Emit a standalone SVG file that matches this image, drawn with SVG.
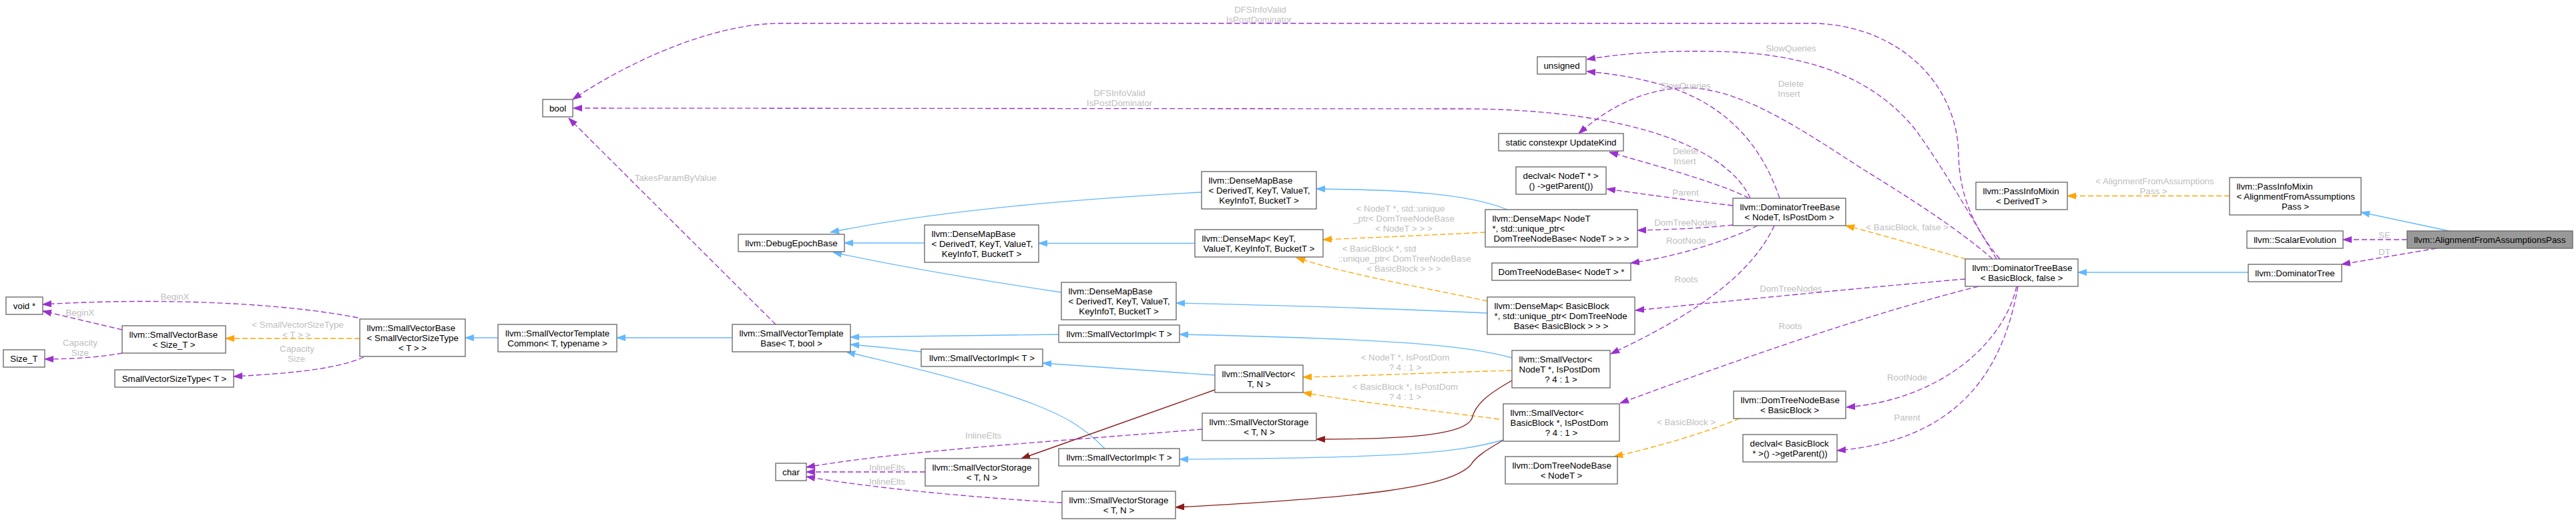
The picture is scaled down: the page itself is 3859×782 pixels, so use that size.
<svg xmlns="http://www.w3.org/2000/svg" width="3859" height="782" viewBox="0 0 3859 782">
<style>
text{font-family:"Liberation Sans",Arial,Helvetica,sans-serif;font-size:13.33px;fill:#000}
.n rect{fill:#fff;stroke:#666;stroke-width:1.33}
.main rect{fill:#999;stroke:#666;stroke-width:1.33}
.c{text-anchor:middle}
.s{text-anchor:start}
.e path{fill:none;stroke-width:1.33}
.b{stroke:#63b8ff}
.o{stroke:#ffa500;stroke-dasharray:8,4}
.p{stroke:#9a32cd;stroke-dasharray:8,4}
.r{stroke:#8b1a1a}
.lbl text{fill:#bebebe;text-anchor:middle}
</style>
<defs>
<marker id="mb" viewBox="0 0 13 10" refX="13" refY="5" markerWidth="13" markerHeight="10" markerUnits="userSpaceOnUse" orient="auto"><path d="M0,0.5L13,5L0,9.5z" fill="#63b8ff" stroke="#63b8ff" stroke-width="1"/></marker>
<marker id="mo" viewBox="0 0 13 10" refX="13" refY="5" markerWidth="13" markerHeight="10" markerUnits="userSpaceOnUse" orient="auto"><path d="M0,0.5L13,5L0,9.5z" fill="#ffa500" stroke="#ffa500" stroke-width="1"/></marker>
<marker id="mp" viewBox="0 0 13 10" refX="13" refY="5" markerWidth="13" markerHeight="10" markerUnits="userSpaceOnUse" orient="auto"><path d="M0,0.5L13,5L0,9.5z" fill="#9a32cd" stroke="#9a32cd" stroke-width="1"/></marker>
<marker id="mr" viewBox="0 0 13 10" refX="13" refY="5" markerWidth="13" markerHeight="10" markerUnits="userSpaceOnUse" orient="auto"><path d="M0,0.5L13,5L0,9.5z" fill="#8b1a1a" stroke="#8b1a1a" stroke-width="1"/></marker>
</defs>
<rect width="3859" height="782" fill="#fff"/>

<g id="edges" class="e">
<path class="b" marker-end="url(#mb)" d="M746,506 L697,506"/>
<path class="b" marker-end="url(#mb)" d="M1097,506 L924,506"/>
<path class="b" marker-end="url(#mb)" d="M1586,501 C1480,502 1380,504 1274,505"/>
<path class="b" marker-end="url(#mb)" d="M1380,527 C1340,522 1310,519 1274,516"/>
<path class="b" marker-end="url(#mb)" d="M1655,672 C1620,636 1590,622 1550,606 C1450,568 1340,545 1268,527"/>
<path class="b" marker-end="url(#mb)" d="M1800,288 C1650,296 1420,312 1244,348"/>
<path class="b" marker-end="url(#mb)" d="M1385,364 L1265,364"/>
<path class="b" marker-end="url(#mb)" d="M1590,438 C1470,420 1340,398 1248,378"/>
<path class="b" marker-end="url(#mb)" d="M1790,364.5 L1556,364.5"/>
<path class="b" marker-end="url(#mb)" d="M2258,314 C2200,290 2100,284 1972,283"/>
<path class="b" marker-end="url(#mb)" d="M2228,469 C2100,463 1900,457 1762,454"/>
<path class="b" marker-end="url(#mb)" d="M2265,536 C2200,518 2100,508 1767,501"/>
<path class="b" marker-end="url(#mb)" d="M1820,562 L1562,544"/>
<path class="b" marker-end="url(#mb)" d="M2252,659 C2180,680 2080,686 1767,688"/>
<path class="b" marker-end="url(#mb)" d="M3368,408 L3113,408"/>
<path class="b" marker-end="url(#mb)" d="M3669,346 L3537,318"/>

<path class="o" marker-end="url(#mo)" d="M539,507 L338,507"/>
<path class="o" marker-end="url(#mo)" d="M2225,348 C2150,352 2050,356 1982,359"/>
<path class="o" marker-end="url(#mo)" d="M2228,451 C2140,432 2020,412 1942,386"/>
<path class="o" marker-end="url(#mo)" d="M2265,555 C2150,558 2050,563 1952,565"/>
<path class="o" marker-end="url(#mo)" d="M2246,628 C2120,612 2020,600 1952,588"/>
<path class="o" marker-end="url(#mo)" d="M2606,627 C2550,650 2480,670 2418,684"/>
<path class="o" marker-end="url(#mo)" d="M2945,388 C2880,370 2820,352 2765,338"/>
<path class="o" marker-end="url(#mo)" d="M3340,293.5 L3097,293.5"/>

<path class="r" marker-end="url(#mr)" d="M1820,584 L1530,687"/>
<path class="r" marker-end="url(#mr)" d="M2265,570 C2230,590 2210,605 2205,627 C2195,650 2120,658 1972,658"/>
<path class="r" marker-end="url(#mr)" d="M2251,660 C2225,675 2210,685 2203,697 C2170,730 2050,745 1761,760"/>

<path class="p" marker-end="url(#mp)" d="M536,476 C430,455 250,445 64,456"/>
<path class="p" marker-end="url(#mp)" d="M183,494 L64,466"/>
<path class="p" marker-end="url(#mp)" d="M183,529 C150,535 110,538 67,538"/>
<path class="p" marker-end="url(#mp)" d="M545,535 C500,555 420,560 350,564"/>
<path class="p" marker-end="url(#mp)" d="M1162,486 L852,177"/>
<path class="p" marker-end="url(#mp)" d="M2622,297 C2590,225 2450,165 2200,163 L859,162"/>
<path class="p" marker-end="url(#mp)" d="M2996,388 C2955,340 2935,290 2934,230 C2932,130 2850,40 2720,35 L1170,35 C1060,35 930,100 858,149"/>
<path class="p" marker-end="url(#mp)" d="M2991,388 C2950,320 2910,250 2870,195 C2810,120 2720,85 2600,78 C2500,74 2430,80 2377,89"/>
<path class="p" marker-end="url(#mp)" d="M2666,297 C2640,220 2590,160 2500,130 C2450,115 2410,110 2377,107"/>
<path class="p" marker-end="url(#mp)" d="M2985,388 C2930,340 2850,290 2790,253 C2700,195 2620,140 2540,132 C2470,128 2410,160 2365,200"/>
<path class="p" marker-end="url(#mp)" d="M2620,297 C2580,275 2470,245 2411,228"/>
<path class="p" marker-end="url(#mp)" d="M2596,308 C2530,300 2470,292 2407,283"/>
<path class="p" marker-end="url(#mp)" d="M2596,337 C2550,342 2500,344 2453,345"/>
<path class="p" marker-end="url(#mp)" d="M2633,338 C2590,360 2510,385 2443,394"/>
<path class="p" marker-end="url(#mp)" d="M2658,338 C2620,420 2520,480 2413,530"/>
<path class="p" marker-end="url(#mp)" d="M2944,418 C2800,430 2600,450 2450,465"/>
<path class="p" marker-end="url(#mp)" d="M2964,429 C2800,470 2600,540 2427,604"/>
<path class="p" marker-end="url(#mp)" d="M3021,429 C3000,520 2900,600 2766,610"/>
<path class="p" marker-end="url(#mp)" d="M3023,429 C3000,560 2930,660 2752,675"/>
<path class="p" marker-end="url(#mp)" d="M1801,643 C1600,660 1350,675 1208,700"/>
<path class="p" marker-end="url(#mp)" d="M1386,707 L1208,707"/>
<path class="p" marker-end="url(#mp)" d="M1591,753 C1450,745 1300,730 1208,714"/>
<path class="p" marker-end="url(#mp)" d="M3606,359 L3510,359"/>
<path class="p" marker-end="url(#mp)" d="M3650,372 L3508,396"/>
</g>

<g id="edge-labels" class="lbl">
<text x="262" y="449">BeginX</text>
<text x="120" y="473">BeginX</text>
<text x="120" y="518">Capacity</text><text x="120" y="533">Size</text>
<text x="446" y="490.5">&lt; SmallVectorSizeType</text><text x="444" y="505.5">&lt; T &gt; &gt;</text>
<text x="445" y="527">Capacity</text><text x="444" y="542">Size</text>
<text x="1012" y="271">TakesParamByValue</text>
<text x="1888" y="18.5">DFSInfoValid</text><text x="1886" y="33.5">IsPostDominator</text>
<text x="1677" y="144">DFSInfoValid</text><text x="1677" y="159">IsPostDominator</text>
<text x="1473" y="657">InlineElts</text>
<text x="1329" y="705">InlineElts</text>
<text x="1329" y="725.5">InlineElts</text>
<text x="2098" y="317">&lt; NodeT *, std::unique</text><text x="2103" y="332">_ptr&lt; DomTreeNodeBase</text><text x="2103" y="347">&lt; NodeT &gt; &gt; &gt;</text>
<text x="2066" y="377">&lt; BasicBlock *, std</text><text x="2104" y="392">::unique_ptr&lt; DomTreeNodeBase</text><text x="2103" y="407">&lt; BasicBlock &gt; &gt; &gt;</text>
<text x="2105" y="540">&lt; NodeT *, IsPostDom</text><text x="2105" y="555">? 4 : 1 &gt;</text>
<text x="2105" y="583.5">&lt; BasicBlock *, IsPostDom</text><text x="2105" y="598.5">? 4 : 1 &gt;</text>
<text x="2683" y="77">SlowQueries</text>
<text x="2525" y="133">SlowQueries</text>
<text x="2683" y="130">Delete</text><text x="2680" y="145">Insert</text>
<text x="2525" y="231">Delete</text><text x="2524" y="246">Insert</text>
<text x="2525" y="293">Parent</text>
<text x="2525" y="338">DomTreeNodes</text>
<text x="2526" y="365">RootNode</text>
<text x="2526" y="423">Roots</text>
<text x="2683" y="437">DomTreeNodes</text>
<text x="2682" y="493">Roots</text>
<text x="2526" y="637">&lt; BasicBlock &gt;</text>
<text x="2857" y="345">&lt; BasicBlock, false &gt;</text>
<text x="2857" y="570">RootNode</text>
<text x="2857" y="629.5">Parent</text>
<text x="3228" y="276">&lt; AlignmentFromAssumptions</text><text x="3226" y="291">Pass &gt;</text>
<text x="3572" y="357">SE</text>
<text x="3572" y="382">DT</text>
</g>

<g id="n_void" class="n"><rect x="9" y="445" width="55" height="26"/><text class="c" x="36.5" y="462.5">void *</text></g>
<g id="n_sizet" class="n"><rect x="5" y="524" width="62" height="26"/><text class="c" x="36" y="541.5">Size_T</text></g>
<g id="n_svb_size" class="n"><rect x="183" y="488" width="155" height="41"/><text class="s" x="193.5" y="505.5">llvm::SmallVectorBase</text><text class="c" x="260.5" y="520.5">&lt; Size_T &gt;</text></g>
<g id="n_svst" class="n"><rect x="172" y="554" width="178" height="26"/><text class="c" x="261" y="571.5">SmallVectorSizeType&lt; T &gt;</text></g>
<g id="n_svb_svst" class="n"><rect x="539" y="478" width="158" height="56"/><text class="s" x="549.5" y="495.5">llvm::SmallVectorBase</text><text class="s" x="549.5" y="510.5">&lt; SmallVectorSizeType</text><text class="c" x="618" y="525.5">&lt; T &gt; &gt;</text></g>
<g id="n_svtc" class="n"><rect x="746" y="486" width="178" height="41"/><text class="s" x="757" y="503.5">llvm::SmallVectorTemplate</text><text class="c" x="835" y="518.5">Common&lt; T, typename &gt;</text></g>
<g id="n_svtb" class="n"><rect x="1097" y="486" width="177" height="41"/><text class="s" x="1107.5" y="503.5">llvm::SmallVectorTemplate</text><text class="c" x="1185.5" y="518.5">Base&lt; T, bool &gt;</text></g>
<g id="n_bool" class="n"><rect x="813" y="149" width="45" height="26"/><text class="c" x="835.5" y="166.5">bool</text></g>
<g id="n_deb" class="n"><rect x="1106" y="351" width="159" height="26"/><text class="c" x="1185.5" y="368.5">llvm::DebugEpochBase</text></g>
<g id="n_char" class="n"><rect x="1162" y="694" width="46" height="26"/><text class="c" x="1185" y="711.5">char</text></g>
<g id="n_dmb1" class="n"><rect x="1800" y="257" width="172" height="56"/><text class="s" x="1810.5" y="274.5">llvm::DenseMapBase</text><text class="s" x="1810.5" y="289.5">&lt; DerivedT, KeyT, ValueT,</text><text class="c" x="1886" y="304.5">KeyInfoT, BucketT &gt;</text></g>
<g id="n_dmb2" class="n"><rect x="1385" y="337" width="171" height="56"/><text class="s" x="1395.5" y="354.5">llvm::DenseMapBase</text><text class="s" x="1395.5" y="369.5">&lt; DerivedT, KeyT, ValueT,</text><text class="c" x="1470.5" y="384.5">KeyInfoT, BucketT &gt;</text></g>
<g id="n_densemap" class="n"><rect x="1790" y="344" width="192" height="41"/><text class="s" x="1800.5" y="361.5">llvm::DenseMap&lt; KeyT,</text><text class="c" x="1886" y="376.5">ValueT, KeyInfoT, BucketT &gt;</text></g>
<g id="n_dmb3" class="n"><rect x="1590" y="423" width="172" height="56"/><text class="s" x="1600.5" y="440.5">llvm::DenseMapBase</text><text class="s" x="1600.5" y="455.5">&lt; DerivedT, KeyT, ValueT,</text><text class="c" x="1676" y="470.5">KeyInfoT, BucketT &gt;</text></g>
<g id="n_svimpl1" class="n"><rect x="1586" y="487" width="181" height="26"/><text class="c" x="1676.5" y="504.5">llvm::SmallVectorImpl&lt; T &gt;</text></g>
<g id="n_svimpl2" class="n"><rect x="1380" y="523" width="182" height="26"/><text class="c" x="1471" y="540.5">llvm::SmallVectorImpl&lt; T &gt;</text></g>
<g id="n_smallvector" class="n"><rect x="1820" y="547" width="132" height="41"/><text class="s" x="1830.5" y="564.5">llvm::SmallVector&lt;</text><text class="c" x="1886" y="579.5">T, N &gt;</text></g>
<g id="n_svstorage1" class="n"><rect x="1801" y="619" width="171" height="41"/><text class="s" x="1811.5" y="636.5">llvm::SmallVectorStorage</text><text class="c" x="1886.5" y="651.5">&lt; T, N &gt;</text></g>
<g id="n_svimpl3" class="n"><rect x="1586" y="672" width="181" height="26"/><text class="c" x="1676.5" y="689.5">llvm::SmallVectorImpl&lt; T &gt;</text></g>
<g id="n_svstorage2" class="n"><rect x="1386" y="687" width="170" height="41"/><text class="s" x="1396.5" y="704.5">llvm::SmallVectorStorage</text><text class="c" x="1471" y="719.5">&lt; T, N &gt;</text></g>
<g id="n_svstorage3" class="n"><rect x="1591" y="736" width="170" height="41"/><text class="s" x="1601.5" y="753.5">llvm::SmallVectorStorage</text><text class="c" x="1676" y="768.5">&lt; T, N &gt;</text></g>
<g id="n_unsigned" class="n"><rect x="2303" y="85" width="73" height="26"/><text class="c" x="2339.5" y="102.5">unsigned</text></g>
<g id="n_updatekind" class="n"><rect x="2245" y="200" width="187" height="26"/><text class="c" x="2338.5" y="217.5">static constexpr UpdateKind</text></g>
<g id="n_declval_nodet" class="n"><rect x="2271" y="250" width="135" height="41"/><text class="s" x="2281.5" y="267.5">declval&lt; NodeT * &gt;</text><text class="c" x="2338.5" y="282.5">() -&gt;getParent())</text></g>
<g id="n_densemap_nodet" class="n"><rect x="2225" y="314" width="228" height="56"/><text class="s" x="2235.5" y="331.5">llvm::DenseMap&lt; NodeT</text><text class="s" x="2235.5" y="346.5">*, std::unique_ptr&lt;</text><text class="c" x="2339" y="361.5">DomTreeNodeBase&lt; NodeT &gt; &gt; &gt;</text></g>
<g id="n_dtnb_ptr" class="n"><rect x="2235" y="394" width="208" height="26"/><text class="c" x="2339" y="411.5">DomTreeNodeBase&lt; NodeT &gt; *</text></g>
<g id="n_densemap_bb" class="n"><rect x="2228" y="445" width="221" height="56"/><text class="s" x="2238.5" y="462.5">llvm::DenseMap&lt; BasicBlock</text><text class="s" x="2238.5" y="477.5">*, std::unique_ptr&lt; DomTreeNode</text><text class="c" x="2338.5" y="492.5">Base&lt; BasicBlock &gt; &gt; &gt;</text></g>
<g id="n_sv_nodet" class="n"><rect x="2265" y="525" width="147" height="56"/><text class="s" x="2275.5" y="542.5">llvm::SmallVector&lt;</text><text class="s" x="2275.5" y="557.5">NodeT *, IsPostDom</text><text class="c" x="2338.5" y="572.5">? 4 : 1 &gt;</text></g>
<g id="n_sv_bb" class="n"><rect x="2252" y="605" width="174" height="56"/><text class="s" x="2262.5" y="622.5">llvm::SmallVector&lt;</text><text class="s" x="2262.5" y="637.5">BasicBlock *, IsPostDom</text><text class="c" x="2339" y="652.5">? 4 : 1 &gt;</text></g>
<g id="n_dtnb_nodet" class="n"><rect x="2255" y="684" width="168" height="41"/><text class="s" x="2265.5" y="701.5">llvm::DomTreeNodeBase</text><text class="c" x="2339" y="716.5">&lt; NodeT &gt;</text></g>
<g id="n_dtb_nodet" class="n"><rect x="2596" y="297" width="169" height="41"/><text class="s" x="2606.5" y="314.5">llvm::DominatorTreeBase</text><text class="c" x="2680.5" y="329.5">&lt; NodeT, IsPostDom &gt;</text></g>
<g id="n_dtb_bb" class="n"><rect x="2944" y="388" width="169" height="41"/><text class="s" x="2954.5" y="405.5">llvm::DominatorTreeBase</text><text class="c" x="3028.5" y="420.5">&lt; BasicBlock, false &gt;</text></g>
<g id="n_dtnb_bb" class="n"><rect x="2597" y="586" width="168" height="41"/><text class="s" x="2607.5" y="603.5">llvm::DomTreeNodeBase</text><text class="c" x="2681" y="618.5">&lt; BasicBlock &gt;</text></g>
<g id="n_declval_bb" class="n"><rect x="2611" y="651" width="141" height="41"/><text class="s" x="2621.5" y="668.5">declval&lt; BasicBlock</text><text class="c" x="2681.5" y="683.5">* &gt;() -&gt;getParent())</text></g>
<g id="n_pim_derived" class="n"><rect x="2960" y="273" width="137" height="41"/><text class="s" x="2970.5" y="290.5">llvm::PassInfoMixin</text><text class="c" x="3028.5" y="305.5">&lt; DerivedT &gt;</text></g>
<g id="n_pim_afap" class="n"><rect x="3340" y="266" width="197" height="56"/><text class="s" x="3350.5" y="283.5">llvm::PassInfoMixin</text><text class="s" x="3350.5" y="298.5">&lt; AlignmentFromAssumptions</text><text class="c" x="3438.5" y="313.5">Pass &gt;</text></g>
<g id="n_se" class="n"><rect x="3366" y="346" width="144" height="26"/><text class="c" x="3438" y="363.5">llvm::ScalarEvolution</text></g>
<g id="n_dt" class="n"><rect x="3368" y="396" width="140" height="26"/><text class="c" x="3438" y="413.5">llvm::DominatorTree</text></g>
<g id="n_afap" class="main"><rect x="3606" y="346" width="248" height="26"/><text class="c" x="3730" y="363.5">llvm::AlignmentFromAssumptionsPass</text></g>
</svg>
